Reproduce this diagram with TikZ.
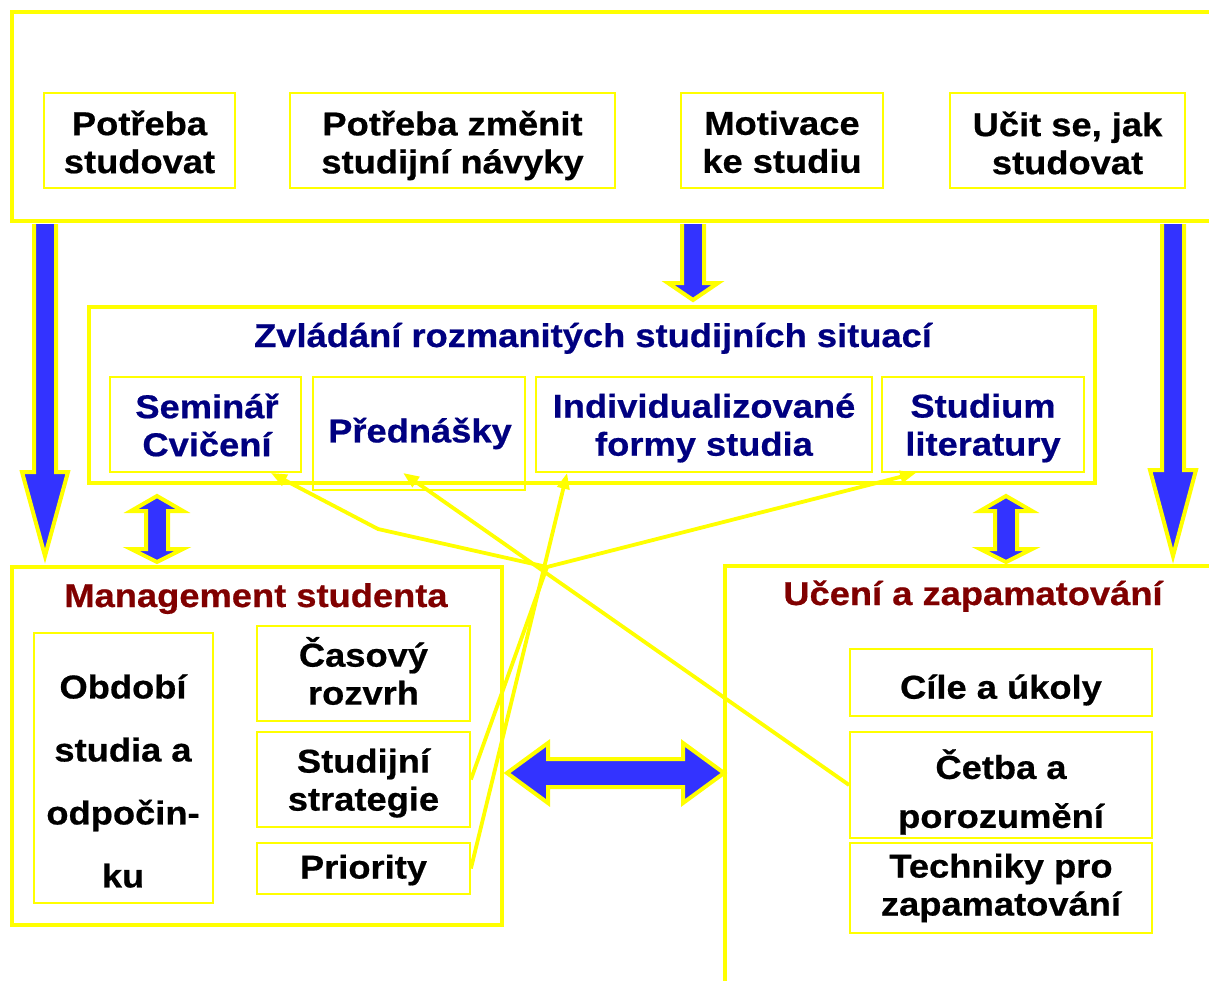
\documentclass[tikz,border=0pt]{standalone}
\usepackage{fontspec}
\setmainfont{Liberation Sans}[FakeStretch=1.1, BoldFeatures={FakeBold=0.6}]
\usetikzlibrary{fit,calc,arrows.meta}
\definecolor{ylw}{HTML}{FFFF00}
\definecolor{blu}{HTML}{3333FF}
\definecolor{navy}{HTML}{000080}
\definecolor{dred}{HTML}{800000}
\newcommand{\blkdown}[6]{\draw[blk] ({#1-#2},#3) -- ({#1-#2},#4) -- ({#1-#5},#4) -- (#1,#6) -- ({#1+#5},#4) -- ({#1+#2},#4) -- ({#1+#2},#3);}
\newcommand{\blkvdouble}[7]{\draw[blk] (#1,#4) -- ({#1+#3},#5) -- ({#1+#2},#5) -- ({#1+#2},#6) -- ({#1+#3},#6) -- (#1,#7) -- ({#1-#3},#6) -- ({#1-#2},#6) -- ({#1-#2},#5) -- ({#1-#3},#5) -- cycle;}
\begin{document}
\begin{tikzpicture}[x=0.5pt,y=-0.5pt,
  outer/.style={draw=ylw, line width=2pt, inner sep=0pt},
  inbox/.style={draw=ylw, line width=0.9pt, inner sep=0pt},
  txt/.style={align=center, inner sep=0pt, font=\fontsize{16.5pt}{19pt}\selectfont\bfseries},
  conn/.style={draw=ylw, line width=1.9pt, -{Triangle[length=8pt,width=6pt]}},
  blk/.style={draw=ylw, fill=blu, line width=2pt, line join=miter, miter limit=20}]
\useasboundingbox (0,0) rectangle (1209,980);
\clip (0,0) rectangle (1209,980);
\fill[white] (0,0) rectangle (1209,980);

% containers
\node[outer, fit={(12,12)(1230,221)}] (top) {};
\node[outer, fit={(89,307)(1095,483)}] (mid) {};
\node[outer, fit={(12,567)(502,925)}] (mgmt) {};
\node[outer, fit={(725,566)(1230,1000)}] (uceni) {};

% block arrows
\blkdown{45}{11}{224}{472}{23}{556}
\blkdown{693}{11}{224}{283}{25}{300}
\blkdown{1173}{11}{224}{470}{23}{556}
\blkvdouble{157}{11}{26}{496}{511}{549}{562}
\blkvdouble{1006}{11}{26}{496}{511}{549}{562}
\draw[blk] (507,773) -- (548,743) -- (548,759) -- (683,759) -- (683,743) -- (724,773) -- (683,803) -- (683,787) -- (548,787) -- (548,803) -- cycle;

% top row
\node[inbox, fit={(44,93)(235,188)}] (p1) {};
\node[inbox, fit={(290,93)(615,188)}] (p2) {};
\node[inbox, fit={(681,93)(883,188)}] (p3) {};
\node[inbox, fit={(950,93)(1185,188)}] (p4) {};
\node[txt] (tp1) at (139.5,142) {Potřeba\\studovat};
\node[txt] (tp2) at (452.5,145.5) {Potřeba změnit\\studijní návyky};
\node[txt] (tp3) at (782,142) {Motivace\\ke studiu};
\node[txt] (tp4) at (1067.5,143) {Učit se, jak\\studovat};

% middle
\node[txt, text=navy, anchor=base] (tmid) at (593,347) {Zvládání rozmanitých studijních situací};
\node[inbox, fit={(110,377)(301,472)}] (sem) {};
\node[inbox, fit={(313,377)(525,490)}] (pred) {};
\node[inbox, fit={(536,377)(872,472)}] (indiv) {};
\node[inbox, fit={(882,377)(1084,472)}] (stud) {};
\node[txt, text=navy] (tsem) at (207,425) {Seminář\\Cvičení};
\node[txt, text=navy] (tpred) at (420,433.5) {Přednášky};
\node[txt, text=navy] (tindiv) at (704,428) {Individualizované\\formy studia};
\node[txt, text=navy] (tstud) at (983,428) {Studium\\literatury};

% management
\node[txt, text=dred, anchor=base] (tmgmt) at (256,607) {Management studenta};
\node[inbox, fit={(34,633)(213,903)}] (obd) {};
\node[inbox, fit={(257,626)(470,721)}] (cas) {};
\node[inbox, fit={(257,732)(470,827)}] (strat) {};
\node[inbox, fit={(257,843)(470,894)}] (prio) {};
\node[txt, font=\fontsize{16.5pt}{31.5pt}\selectfont\bfseries] (tobd) at (123,781) {Období\\studia a\\odpočin-\\ku};
\node[txt] (tcas) at (363.5,671) {Časový\\rozvrh};
\node[txt] (tstrat) at (363.5,783) {Studijní\\strategie};
\node[txt] (tprio) at (363.5,870) {Priority};

% uceni
\node[txt, text=dred, anchor=base] (tuceni) at (973,605) {Učení a zapamatování};
\node[inbox, fit={(850,649)(1152,716)}] (cile) {};
\node[inbox, fit={(850,732)(1152,838)}] (cetba) {};
\node[inbox, fit={(850,843)(1152,933)}] (tech) {};
\node[txt] (tcile) at (1001,690) {Cíle a úkoly};
\node[txt, font=\fontsize{16.5pt}{24.5pt}\selectfont\bfseries] (tcetba) at (1001,792) {Četba a\\porozumění};
\node[txt] (ttech) at (1001,888) {Techniky pro\\zapamatování};

% connectors
\coordinate (hub) at (547,567);
\coordinate (bend) at (378,529);
\draw[conn] (prio.east) -- ($(indiv.south west)+(32,0)$);
\draw[conn] (strat.east) -- (hub) -- ($(stud.south west)+(35,0)$);
\draw[conn] (hub) -- (bend) -- ($(sem.south east)+(-31,0)$);
\draw[conn] (cetba.west) -- ($(pred.south)+(-16,-18)$);
\end{tikzpicture}
\end{document}
